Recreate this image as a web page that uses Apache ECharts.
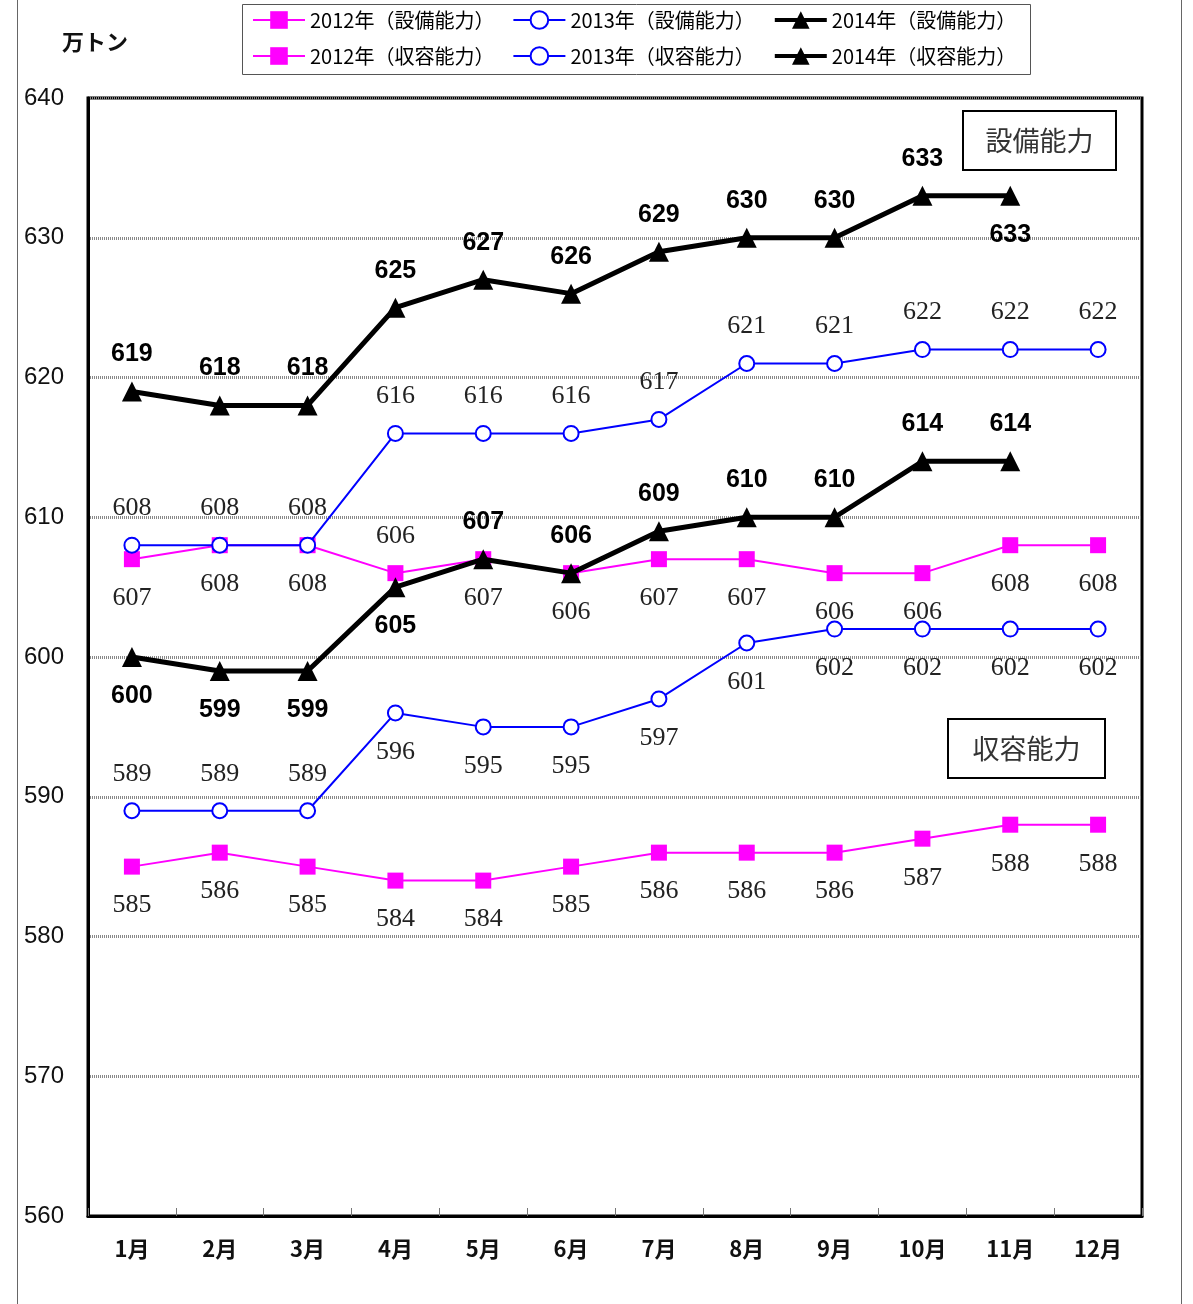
<!DOCTYPE html>
<html>
<head>
<meta charset="utf-8">
<script src="https://cdn.jsdelivr.net/npm/echarts@6/dist/echarts.min.js"></script>
<style>html,body{margin:0;padding:0;background:#fff;}#c{width:1193px;height:1304px;}</style>
</head>
<body>
<div id="c"></div>
<script>
const categories = ['1月','2月','3月','4月','5月','6月','7月','8月','9月','10月','11月','12月'];
const yTicks = [560, 570, 580, 590, 600, 610, 620, 630, 640];

const cap2012 = [607, 608, 608, 606, 607, 606, 607, 607, 606, 606, 608, 608];
const cap2013 = [608, 608, 608, 616, 616, 616, 617, 621, 621, 622, 622, 622];
const cap2014 = [619, 618, 618, 625, 627, 626, 629, 630, 630, 633, 633];
const rec2012 = [585, 586, 585, 584, 584, 585, 586, 586, 586, 587, 588, 588];
const rec2013 = [589, 589, 589, 596, 595, 595, 597, 601, 602, 602, 602, 602];
const rec2014 = [600, 599, 599, 605, 607, 606, 609, 610, 610, 614, 614];

// label placement: indices where the label sits above the point (others below), per series
const above2012cap = [3];
const above2012rec = [];
const below2013cap = [];
const below2013rec = [3, 4, 5, 6, 7, 8, 9, 10, 11];
const below2014cap = [10];
const below2014rec = [0, 1, 2, 3];

const UP = [0, -37], DOWN = [0, 39];
function mk(values, isBelow) {
  return values.map((v, i) => ({ value: v, label: { offset: isBelow(i) ? DOWN : UP } }));
}
const serifLabel = { show: true, position: 'inside', fontFamily: 'Liberation Serif', fontSize: 26, color: '#222' };
const boldLabel = { show: true, position: 'inside', fontFamily: 'Liberation Sans', fontWeight: 'bold', fontSize: 25, color: '#000' };

const names = ['2012年（設備能力）','2013年（設備能力）','2014年（設備能力）','2012年（収容能力）','2013年（収容能力）','2014年（収容能力）'];

function magenta(name, data) {
  return { name, type: 'line', data, symbol: 'rect', symbolSize: 16,
    itemStyle: { color: '#FF00FF' }, lineStyle: { color: '#FF00FF', width: 2 },
    label: serifLabel, z: 2, animation: false };
}
function blue(name, data) {
  return { name, type: 'line', data, symbol: 'circle', symbolSize: 15,
    itemStyle: { color: '#fff', borderColor: '#0000FF', borderWidth: 2 }, lineStyle: { color: '#0000FF', width: 2 },
    label: serifLabel, z: 3, animation: false };
}
function black(name, data) {
  return { name, type: 'line', data, symbol: 'triangle', symbolSize: 20,
    itemStyle: { color: '#000' }, lineStyle: { color: '#000', width: 5 },
    label: boldLabel, z: 4, animation: false };
}

const legendText = { fontFamily: 'Noto Sans CJK JP', fontSize: 20, color: '#000' };
function legendItems(list) {
  return list.map(n => n.startsWith('2014') ? { name: n, lineStyle: { width: 4 } } : { name: n });
}

const chart = echarts.init(document.getElementById('c'));
chart.setOption({
  backgroundColor: '#fff',
  animation: false,
  grid: { left: 88, right: 51, top: 98, bottom: 88, show: true, borderColor: '#000', borderWidth: 3, backgroundColor: 'transparent' },
  legend: [
    { data: legendItems(names.slice(0, 3)), left: 252, top: 10, padding: 0, itemGap: 18, itemWidth: 52, itemHeight: 22, textStyle: legendText },
    { data: legendItems(names.slice(3, 6)), left: 252, top: 46, padding: 0, itemGap: 18, itemWidth: 52, itemHeight: 22, textStyle: legendText }
  ],
  xAxis: {
    type: 'category', data: categories, boundaryGap: true,
    axisLine: { show: true, lineStyle: { color: '#000', width: 3 } },
    axisTick: { show: true, inside: true, length: 8, lineStyle: { color: '#777', width: 1 } },
    axisLabel: { fontFamily: 'Noto Sans CJK JP', fontWeight: 'bold', fontSize: 22, color: '#111', margin: 22 },
    splitLine: { show: false }
  },
  yAxis: {
    type: 'value', min: yTicks[0], max: yTicks[yTicks.length - 1], interval: 10,
    axisLine: { show: true, lineStyle: { color: '#000', width: 3 } },
    axisTick: { show: false },
    axisLabel: { fontFamily: 'Liberation Sans', fontSize: 24, color: '#111', margin: 24, align: 'right',
      formatter: v => yTicks.includes(v) ? String(v) : '' },
    splitLine: { show: true, lineStyle: { color: '#888', width: 3, type: [1, 1] } }
  },
  graphic: [
    { type: 'line', shape: { x1: 17.5, y1: 0, x2: 17.5, y2: 1304 }, style: { stroke: '#666', lineWidth: 1 }, silent: true },
    { type: 'line', shape: { x1: 1181.5, y1: 0, x2: 1181.5, y2: 1304 }, style: { stroke: '#666', lineWidth: 1 }, silent: true },
    { type: 'rect', shape: { x: 242.5, y: 4.5, width: 788, height: 70 }, style: { fill: 'none', stroke: '#555', lineWidth: 1 }, silent: true, z: -1 },
    { type: 'text', left: 62, top: 31, style: { text: '万トン', font: 'bold 22px "Noto Sans CJK JP"', fill: '#111' } },
    { type: 'rect', shape: { x: 963, y: 111, width: 153, height: 59 }, style: { fill: '#fff', stroke: '#000', lineWidth: 2 }, z: 10 },
    { type: 'text', x: 1039.5, y: 140.5, style: { text: '設備能力', font: '27px "Noto Sans CJK JP"', fill: '#333', align: 'center', verticalAlign: 'middle' }, z: 11 },
    { type: 'rect', shape: { x: 948, y: 719, width: 157, height: 59 }, style: { fill: '#fff', stroke: '#000', lineWidth: 2 }, z: 10 },
    { type: 'text', x: 1026.5, y: 748.5, style: { text: '収容能力', font: '27px "Noto Sans CJK JP"', fill: '#333', align: 'center', verticalAlign: 'middle' }, z: 11 }
  ],
  series: [
    magenta(names[0], mk(cap2012, i => !above2012cap.includes(i))),
    magenta(names[3], mk(rec2012, i => !above2012rec.includes(i))),
    blue(names[1], mk(cap2013, i => below2013cap.includes(i))),
    blue(names[4], mk(rec2013, i => below2013rec.includes(i))),
    black(names[2], mk(cap2014, i => below2014cap.includes(i))),
    black(names[5], mk(rec2014, i => below2014rec.includes(i)))
  ]
});
</script>
</body>
</html>
